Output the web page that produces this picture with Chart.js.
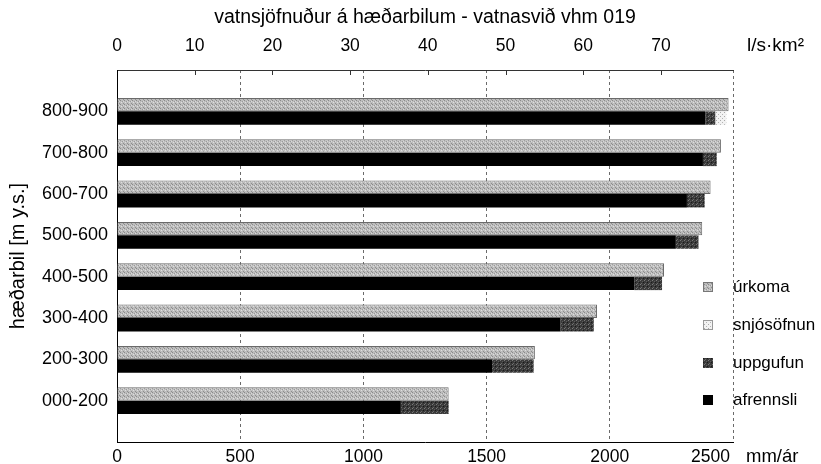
<!DOCTYPE html>
<html>
<head>
<meta charset="utf-8">
<script src="https://cdn.jsdelivr.net/npm/chart.js@4/dist/chart.umd.min.js"></script>
<style>
  html, body { margin: 0; padding: 0; background: #fff; }
  #wrap { width: 821px; height: 464px; }
</style>
</head>
<body>
<div id="wrap"><canvas id="c" width="821" height="464"></canvas></div>
<script>
// ---- data ----
const categories = ['800-900', '700-800', '600-700', '500-600', '400-500', '300-400', '200-300', '000-200'];
const urkoma     = [2482, 2451, 2409, 2375, 2220, 1948, 1696, 1346];
const afrennsli  = [2388, 2378, 2313, 2268, 2099, 1800, 1522, 1152];
const uppgufun   = [40, 56, 72, 92, 113, 135, 169, 194];
const snjosofnun = [45, 0, 0, 0, 0, 0, 0, 0];
const mmTickStep = 500;
const lsTickStep = 10;
const mmMax = 2500;
const mmPerLs = 31.536; // 1 l/s·km² = 31.536 mm/ár

const FONT = "'Liberation Sans', Arial, sans-serif";

function makePattern(bg, dots) {
  const c = document.createElement('canvas');
  c.width = 4; c.height = 4;
  const g = c.getContext('2d');
  g.fillStyle = bg; g.fillRect(0, 0, 4, 4);
  dots.forEach(([x, y, col]) => { g.fillStyle = col; g.fillRect(x, y, 1, 1); });
  return g.createPattern(c, 'repeat');
}
const pUrkoma = makePattern('#bdbdbd', [[0,0,'#8a8a8a'],[2,1,'#9a9a9a'],[1,2,'#dedede'],[3,3,'#8e8e8e'],[3,1,'#d8d8d8']]);
const pSnow   = makePattern('#f2f2f2', [[0,0,'#a8a8a8'],[2,2,'#b4b4b4']]);
const pUpp    = makePattern('#3a3a3a', [[0,0,'#7a7a7a'],[2,1,'#5a5a5a'],[1,3,'#6a6a6a'],[3,2,'#1a1a1a']]);

const toXY = arr => arr.map((v, i) => ({ x: v, y: i }));

const legendItems = [
  { label: 'úrkoma',     fill: pUrkoma, stroke: '#777' },
  { label: 'snjósöfnun', fill: pSnow,   stroke: '#999' },
  { label: 'uppgufun',   fill: pUpp,    stroke: null },
  { label: 'afrennsli',  fill: '#000',  stroke: null }
];

const extras = {
  id: 'extras',
  afterDraw(chart) {
    const ctx = chart.ctx;
    const ca = chart.chartArea;
    const x2 = chart.scales.x2;
    ctx.save();
    // inward tick marks of the top axis
    ctx.strokeStyle = '#333';
    ctx.lineWidth = 1;
    x2.ticks.forEach(t => {
      if (t.value === 0) return;
      const px = Math.round(x2.getPixelForValue(t.value)) + 0.5;
      ctx.beginPath(); ctx.moveTo(px, ca.top); ctx.lineTo(px, ca.top + 5); ctx.stroke();
    });
    // unit labels
    ctx.fillStyle = '#000';
    ctx.textBaseline = 'middle';
    ctx.textAlign = 'left';
    ctx.font = '19px ' + FONT;
    ctx.fillText('l/s·km²', 747, 46);
    ctx.font = '17.5px ' + FONT;
    // last bottom tick label sits left of the axis end, followed by the unit
    ctx.fillText(String(mmMax), 691, 457);
    ctx.font = '18.5px ' + FONT;
    ctx.fillText('mm/ár', 746, 457);
    // legend
    ctx.font = '17px ' + FONT;
    const ys = [287, 325, 363, 400];
    legendItems.forEach((it, i) => {
      const y = ys[i];
      ctx.fillStyle = it.fill;
      ctx.fillRect(703, y - 5, 10, 10);
      if (it.stroke) { ctx.strokeStyle = it.stroke; ctx.strokeRect(703.5, y - 4.5, 9, 9); }
      ctx.fillStyle = '#000';
      ctx.fillText(it.label, 733, y);
    });
    ctx.restore();
  }
};

new Chart(document.getElementById('c'), {
  type: 'bar',
  data: {
    datasets: [
      { label: 'úrkoma', data: toXY(urkoma), stack: 'p', backgroundColor: pUrkoma, borderColor: '#6a6a6a', borderWidth: 1, borderSkipped: 'start' },
      { label: 'afrennsli', data: toXY(afrennsli), stack: 'r', backgroundColor: '#000', borderWidth: 0 },
      { label: 'uppgufun', data: toXY(uppgufun), stack: 'r', backgroundColor: pUpp, borderWidth: 0 },
      { label: 'snjósöfnun', data: toXY(snjosofnun), stack: 'r', backgroundColor: pSnow, borderWidth: 0 }
    ]
  },
  options: {
    indexAxis: 'y',
    responsive: false,
    devicePixelRatio: 1,
    animation: false,
    layout: { padding: { left: 0, right: 88, top: 0, bottom: 0 } },
    plugins: { legend: { display: false }, tooltip: { enabled: false } },
    datasets: { bar: { categoryPercentage: 0.65, barPercentage: 1.0 } },
    scales: {
      x: {
        type: 'linear', position: 'bottom', stacked: true,
        min: 0, max: mmMax,
        ticks: { stepSize: mmTickStep, color: '#000', padding: 4.5, font: { family: FONT, size: 17.5 },
                 callback: v => (v === mmMax ? '' : String(v)) },
        grid: { display: true, drawTicks: false, color: '#6a6a6a', lineWidth: 1 },
        border: { display: true, color: '#000', width: 1, dash: [3, 3] },
        afterFit: s => { s.height = 22; }
      },
      x2: {
        type: 'linear', position: 'top',
        min: 0, max: mmMax / mmPerLs,
        ticks: { stepSize: lsTickStep, includeBounds: false, color: '#000', padding: 13.5, font: { family: FONT, size: 17.5 },
                 callback: v => String(v) },
        grid: { display: false, drawTicks: false },
        border: { display: true, color: '#333', width: 1 },
        title: { display: true, text: 'vatnsjöfnuður á hæðarbilum - vatnasvið vhm 019', color: '#000', font: { family: FONT, size: 19.5 }, padding: { top: 6, bottom: 0 } },
        afterFit: s => { s.height = 70; }
      },
      y: {
        type: 'linear', position: 'left', reverse: true, stacked: true, offset: false,
        min: -1, max: 8,
        afterBuildTicks: s => { s.ticks = categories.map((c, i) => ({ value: i })); },
        ticks: { stepSize: 1, color: '#000', padding: 9, font: { family: FONT, size: 18 },
                 callback: v => categories[v] ?? '' },
        grid: { display: false, drawTicks: false, offset: false },
        border: { display: true, color: '#000', width: 1 },
        title: { display: true, text: 'hæðarbil [m y.s.]', color: '#000', font: { family: FONT, size: 20 }, padding: { top: 6, bottom: 0 } },
        afterFit: s => { s.width = 117; }
      }
    }
  },
  plugins: [extras]
});
</script>
</body>
</html>
